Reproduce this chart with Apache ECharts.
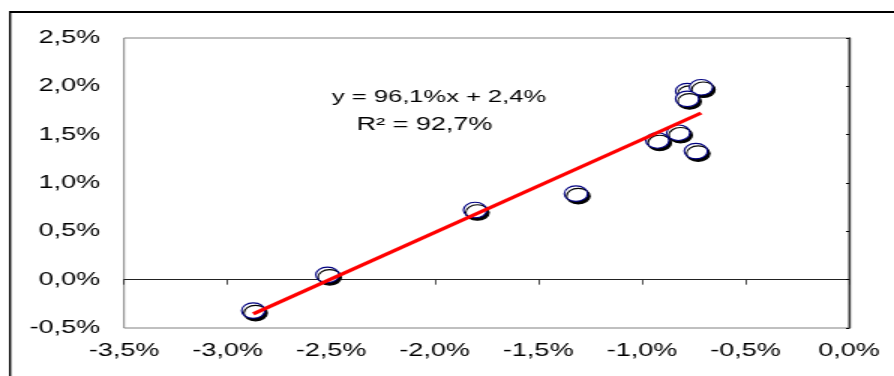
<!DOCTYPE html>
<html>
<head>
<meta charset="utf-8">
<script src="https://cdn.jsdelivr.net/npm/echarts@6/dist/echarts.min.js"></script>
<style>
  html, body { margin: 0; padding: 0; background: #fff; overflow: hidden; }
  #wrap { position: absolute; left: 0; top: 0; width: 894px; height: 376px; overflow: hidden; }
  #chart { position: absolute; left: 0; top: 0; width: 596px; height: 376px; transform: scaleX(1.5); transform-origin: 0 0; }
</style>
</head>
<body>
<div id="wrap"><div id="chart"></div></div>
<script>
// Data (in %)
var xValues = [-2.876, -2.518, -1.805, -1.318, -0.925, -0.824, -0.739, -0.781, -0.714, -0.781];
var yValues = [-0.32, 0.05, 0.72, 0.89, 1.44, 1.52, 1.33, 1.95, 1.99, 1.87];
var trendSlope = 0.961;
var trendIntercept = 2.41;
var equationText = 'y = 96,1%x + 2,4%';
var r2Text = 'R\u00B2 = 92,7%';
var xTicks = { min: -3.5, max: 0, interval: 0.5 };
var yTicks = { min: -0.5, max: 2.5, interval: 0.5 };

function fmt(v) { return v.toFixed(1).replace('.', ',') + '%'; }

var points = xValues.map(function (x, i) { return [x, yValues[i]]; });
var xMinD = Math.min.apply(null, xValues), xMaxD = Math.max.apply(null, xValues);
var trend = [[xMinD, trendSlope * xMinD + trendIntercept], [xMaxD, trendSlope * xMaxD + trendIntercept]];

var FONT = "'Liberation Sans', Arial, sans-serif";
var chart = echarts.init(document.getElementById('chart'), null, { renderer: 'canvas' });
chart.setOption({
  animation: false,
  backgroundColor: '#fff',
  grid: { left: 82.7, right: 30, top: 38, bottom: 48, show: true, borderColor: '#808080', borderWidth: 1, backgroundColor: 'transparent' },
  xAxis: [
    { type: 'value', position: 'bottom', min: xTicks.min, max: xTicks.max, interval: xTicks.interval,
      axisLine: { show: false, onZero: false }, axisTick: { show: false }, splitLine: { show: false },
      axisLabel: { formatter: fmt, fontFamily: FONT, fontSize: 18, color: '#000', margin: 14 } },
    { type: 'value', position: 'bottom', min: xTicks.min, max: xTicks.max, interval: xTicks.interval,
      axisLine: { show: true, onZero: true, onZeroAxisIndex: 0, lineStyle: { color: '#222', width: 1 } },
      axisTick: { show: true, inside: false, length: 5, lineStyle: { color: '#222', width: 0.8 } },
      axisLabel: { show: false }, splitLine: { show: false } }
  ],
  yAxis: [
    { type: 'value', position: 'left', min: yTicks.min, max: yTicks.max, interval: yTicks.interval,
      axisLine: { show: false, onZero: false }, axisTick: { show: false }, splitLine: { show: false },
      axisLabel: { formatter: fmt, fontFamily: FONT, fontSize: 18, color: '#000', margin: 16 } },
    { type: 'value', position: 'right', min: yTicks.min, max: yTicks.max, interval: yTicks.interval,
      axisLine: { show: true, onZero: false, lineStyle: { color: '#333', width: 1.4 } },
      axisTick: { show: true, inside: true, length: 2, lineStyle: { color: '#000', width: 1 } },
      axisLabel: { show: false }, splitLine: { show: false } }
  ],
  graphic: [
    { type: 'line', shape: { x1: 6.7, y1: 12, x2: 6.7, y2: 400 }, style: { stroke: '#000', lineWidth: 1.4 }, silent: true },
    { type: 'line', shape: { x1: 6.0, y1: 12, x2: 700, y2: 12 }, style: { stroke: '#000', lineWidth: 2 }, silent: true },
    { type: 'text', x: 292.7, y: 97, style: { text: equationText, font: '17px ' + FONT, fill: '#000', align: 'center', verticalAlign: 'middle' }, z: 10 },
    { type: 'text', x: 283, y: 125, style: { text: r2Text, font: '18px ' + FONT, fill: '#000', align: 'center', verticalAlign: 'middle' }, z: 10 }
  ],
  series: [
    { type: 'scatter', xAxisIndex: 0, yAxisIndex: 0, data: points, symbol: 'circle', symbolSize: 15.5,
      itemStyle: { color: '#fff', borderColor: '#000080', borderWidth: 1.1, shadowColor: '#000', shadowBlur: 0, shadowOffsetX: 1.5, shadowOffsetY: 2.5, opacity: 1 },
      emphasis: { disabled: true }, z: 2 },
    { type: 'line', xAxisIndex: 0, yAxisIndex: 0, data: trend, symbol: 'none', showSymbol: false,
      lineStyle: { color: '#ff0000', width: 3.2 }, emphasis: { disabled: true }, z: 3 }
  ]
});
</script>
</body>
</html>
